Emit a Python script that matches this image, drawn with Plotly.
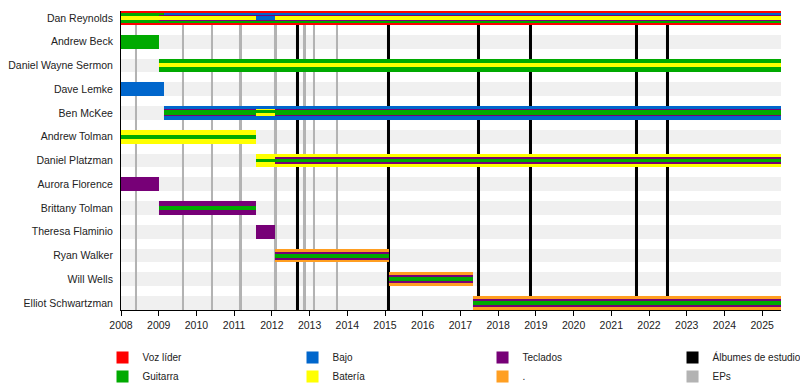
import plotly.graph_objects as go

# ---------------- data ----------------
members = ["Dan Reynolds", "Andrew Beck", "Daniel Wayne Sermon", "Dave Lemke",
           "Ben McKee", "Andrew Tolman", "Daniel Platzman", "Aurora Florence",
           "Brittany Tolman", "Theresa Flaminio", "Ryan Walker", "Will Wells",
           "Elliot Schwartzman"]

seg_member = ["Dan Reynolds", "Dan Reynolds", "Dan Reynolds", "Dan Reynolds", "Dan Reynolds",
              "Andrew Beck", "Daniel Wayne Sermon", "Dave Lemke",
              "Ben McKee", "Ben McKee", "Ben McKee",
              "Andrew Tolman", "Daniel Platzman", "Daniel Platzman",
              "Aurora Florence", "Brittany Tolman", "Theresa Flaminio",
              "Ryan Walker", "Will Wells", "Elliot Schwartzman"]
seg_start = [2008.0, 2009.0, 2009.13, 2011.58, 2012.08,
             2008.0, 2009.0, 2008.0,
             2009.13, 2011.58, 2012.08,
             2008.0, 2011.58, 2012.08,
             2008.0, 2009.0, 2011.58,
             2012.08, 2015.11, 2017.33]
seg_end = [2009.0, 2009.13, 2011.58, 2012.08, 2025.5,
           2009.0, 2025.5, 2009.13,
           2011.58, 2012.08, 2025.5,
           2011.58, 2012.08, 2025.5,
           2009.0, 2011.58, 2012.08,
           2015.11, 2017.33, 2025.5]
seg_pattern = ["dan_a", "dan_b", "dan_c", "dan_d", "dan_c",
               "gtr", "gtr_dr", "bass",
               "ben_a", "ben_b", "ben_a",
               "dr_gtr", "dr_gtr", "dr_key_gtr",
               "keys", "key_gtr", "keys",
               "tour", "tour", "tour"]

album_dates = [2012.67, 2015.08, 2017.47, 2018.85, 2021.66, 2022.48]
ep_dates = [2008.40, 2009.64, 2010.41, 2011.17, 2012.10, 2012.87, 2013.11, 2013.72]

x_start, x_end = 2008.0, 2025.5
year_ticks = list(range(2008, 2026))

role_order = ["voz", "bajo", "teclados", "guitarra", "bateria", "otro"]
role_labels = {"voz": "Voz líder", "guitarra": "Guitarra", "bajo": "Bajo",
               "bateria": "Batería", "teclados": "Teclados", "otro": "."}

# ---------------- style ----------------
role_colors = {"voz": "#ff0000", "guitarra": "#00aa00", "bajo": "#0066cc",
               "bateria": "#ffff00", "teclados": "#770077", "otro": "#ff9f22"}
legend_rank = {"voz": 1, "bajo": 2, "teclados": 3, "guitarra": 5, "bateria": 6, "otro": 7}

# stripes top -> bottom, thickness in pixels
PATTERNS = {
    "dan_a": [("voz", 2), ("guitarra", 3), ("bateria", 4), ("guitarra", 3), ("voz", 2)],
    "dan_b": [("voz", 2), ("guitarra", 2), ("teclados", 1), ("bateria", 4), ("teclados", 1), ("guitarra", 2), ("voz", 2)],
    "dan_c": [("voz", 2), ("bajo", 2), ("teclados", 1), ("bateria", 4), ("teclados", 1), ("guitarra", 2), ("voz", 2)],
    "dan_d": [("voz", 2), ("bajo", 2), ("teclados", 1), ("bajo", 4), ("teclados", 1), ("guitarra", 2), ("voz", 2)],
    "gtr": [("guitarra", 14)],
    "bass": [("bajo", 14)],
    "keys": [("teclados", 14)],
    "gtr_dr": [("guitarra", 5), ("bateria", 4), ("guitarra", 5)],
    "ben_a": [("bajo", 3), ("teclados", 1), ("guitarra", 5), ("teclados", 1), ("bajo", 4)],
    "ben_b": [("bajo", 3), ("bateria", 1), ("guitarra", 3), ("bateria", 3), ("bajo", 4)],
    "dr_gtr": [("bateria", 5), ("guitarra", 4), ("bateria", 5)],
    "dr_key_gtr": [("bateria", 3), ("teclados", 2), ("guitarra", 4), ("teclados", 2), ("bateria", 3)],
    "key_gtr": [("teclados", 5), ("guitarra", 4), ("teclados", 5)],
    "tour": [("otro", 3), ("teclados", 2), ("guitarra", 4), ("teclados", 2), ("otro", 3)],
}

W, H = 800, 390
M_L, M_R, M_T, M_B = 120.5, 19, 10.5, 79.5
PLOT_H = H - M_T - M_B
BAR_PX = 14
n = len(members)
# range = [n-1+h, -h]; px/unit*(n-1) + BAR_PX = PLOT_H
PX_PER_UNIT = (PLOT_H - BAR_PX) / (n - 1)
half = (BAR_PX / 2) / PX_PER_UNIT
PX_PER_YEAR = (W - M_L - M_R) / (x_end - x_start)
FONT = "Liberation Sans, Arial, sans-serif"
TXT = "#222222"
CRISP = 0.02  # hair-thin outline -> plotly snaps bar edges to whole pixels

row_of = {m: i for i, m in enumerate(members)}

fig = go.Figure()

# background bands
fig.add_trace(go.Bar(orientation="h", y=list(range(n)), x=[x_end - x_start] * n,
                     base=[x_start] * n, width=BAR_PX / PX_PER_UNIT,
                     marker=dict(color="#f0f0f0", line=dict(width=CRISP, color="#f0f0f0")),
                     showlegend=False, hoverinfo="skip"))

# EP lines
fig.add_trace(go.Bar(orientation="v", x=ep_dates, y=[n - 1 + 2 * half] * len(ep_dates),
                     base=[-half] * len(ep_dates), width=2.4 / PX_PER_YEAR,
                     marker=dict(color="#b3b3b3", line=dict(width=CRISP, color="#b3b3b3")),
                     name="EPs", legendrank=8, hoverinfo="skip"))
# album lines
fig.add_trace(go.Bar(orientation="v", x=album_dates, y=[n - 1 + 2 * half] * len(album_dates),
                     base=[-half] * len(album_dates), width=3 / PX_PER_YEAR,
                     marker=dict(color="#000000", line=dict(width=CRISP, color="#000000")),
                     name="Álbumes de estudio", legendrank=4, hoverinfo="skip"))

# member stripes, one trace per role
stripes = {r: {"y": [], "x": [], "base": [], "w": []} for r in role_order}
for m, s, e, p in zip(seg_member, seg_start, seg_end, seg_pattern):
    top = row_of[m] - half
    cum = 0.0
    for role, t in PATTERNS[p]:
        c = top + (cum + t / 2) / PX_PER_UNIT
        stripes[role]["y"].append(c)
        stripes[role]["x"].append(e - s)
        stripes[role]["base"].append(s)
        stripes[role]["w"].append(t / PX_PER_UNIT)
        cum += t

for r in role_order:
    d = stripes[r]
    fig.add_trace(go.Bar(orientation="h", y=d["y"], x=d["x"], base=d["base"], width=d["w"],
                         marker=dict(color=role_colors[r], line=dict(width=CRISP, color=role_colors[r])),
                         name=role_labels[r], legendrank=legend_rank[r], hoverinfo="skip"))

fig.update_layout(
    width=W, height=H,
    margin=dict(l=M_L, r=M_R, t=M_T, b=M_B, autoexpand=False),
    barmode="overlay", bargap=0,
    plot_bgcolor="white", paper_bgcolor="white",
    font=dict(family=FONT, size=11, color=TXT),
    showlegend=True,
    legend=dict(orientation="h", x=-0.028, xanchor="left", y=-0.11, yanchor="top",
                entrywidth=145, entrywidthmode="pixels", traceorder="normal",
                font=dict(family=FONT, size=10, color=TXT),
                bgcolor="rgba(0,0,0,0)", itemclick=False, itemdoubleclick=False),
)
fig.update_xaxes(range=[x_start, x_end], tickvals=year_ticks, ticktext=[str(y) for y in year_ticks],
                 ticks="outside", ticklen=5, tickcolor="black", tickwidth=1,
                 showline=True, linecolor="black", linewidth=1, showgrid=False, zeroline=False,
                 tickfont=dict(family=FONT, size=10.5, color=TXT))
fig.update_yaxes(range=[n - 1 + half, -half], tickvals=list(range(n)), ticktext=members,
                 showline=True, linecolor="black", linewidth=1, showgrid=False, zeroline=False,
                 ticks="", ticklabelstandoff=5,
                 tickfont=dict(family=FONT, size=10.5, color=TXT))

fig.write_html("out.html", config={"displayModeBar": False},
               post_script="document.body.style.margin='0px';")
